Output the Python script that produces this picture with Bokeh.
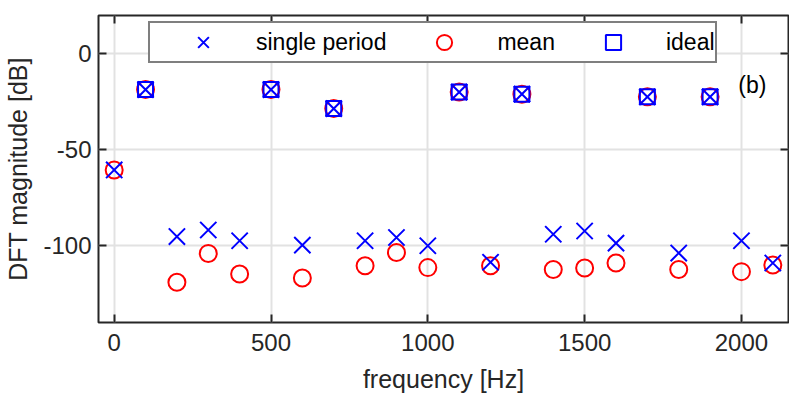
from bokeh.plotting import figure
from bokeh.models import (Range1d, FixedTicker, LinearAxis, Legend, LegendItem,
                          ColumnDataSource, Label, CustomLabelingPolicy)
from bokeh.embed import file_html
from bokeh.resources import INLINE

# ---- data ----
freq = [0, 100, 200, 300, 400, 500, 600, 700, 800, 900, 1000,
        1100, 1200, 1300, 1400, 1500, 1600, 1700, 1800, 1900, 2000, 2100]
single_period = [-60.5, -18.6, -95.2, -91.8, -97.4, -18.6, -99.7, -28.5, -97.4, -95.7, -100.0,
                 -19.9, -108.6, -21.0, -94.0, -92.3, -98.6, -22.4, -103.8, -22.4, -97.4, -109.0]
mean_db = [-60.5, -18.6, -119.0, -104.0, -114.7, -18.6, -116.8, -28.5, -110.4, -103.5, -111.4,
           -19.9, -110.4, -21.0, -112.4, -111.6, -109.0, -22.4, -112.4, -22.4, -113.5, -110.0]
ideal_freq = [100, 500, 700, 1100, 1300, 1700, 1900]
ideal_db = [-18.6, -18.6, -28.5, -19.9, -21.0, -22.4, -22.4]

x_ticks = [0, 500, 1000, 1500, 2000]
y_ticks = [-100, -50, 0]
x_label = "frequency [Hz]"
y_label = "DFT magnitude [dB]"
panel_tag = "(b)"

FONT = "Liberation Sans"
TICK_FS = "24px"
LABEL_FS = "25px"
LEG_FS = "23px"
DARK = "#262626"

p = figure(width=789, height=395, output_backend="svg", toolbar_location=None,
           x_range=Range1d(-50, 2150), y_range=Range1d(-140, 20),
           min_border_left=98, min_border_right=1, min_border_top=15, min_border_bottom=71)

p.background_fill_color = "white"
p.border_fill_color = "white"
p.outline_line_color = DARK
p.outline_line_width = 2

# grid
for g in (p.xgrid, p.ygrid):
    g.grid_line_color = "#e2e2e2"
    g.grid_line_width = 2
p.xgrid.ticker = FixedTicker(ticks=x_ticks)
p.ygrid.ticker = FixedTicker(ticks=y_ticks)

no_labels = CustomLabelingPolicy(code="""
for (const i of indices) { indices.unset(i) }
return indices
""")

def style_axis(ax, ticks, show_labels):
    ax.ticker = FixedTicker(ticks=ticks)
    ax.axis_line_color = None
    ax.major_tick_in = 8
    ax.major_tick_out = 0
    ax.major_tick_line_color = DARK
    ax.major_tick_line_width = 2
    ax.minor_tick_line_color = None
    ax.major_label_text_font = FONT
    ax.major_label_text_color = DARK
    if show_labels:
        ax.major_label_text_font_size = TICK_FS
        ax.axis_label_text_font = FONT
        ax.axis_label_text_font_size = LABEL_FS
        ax.axis_label_text_font_style = "normal"
        ax.axis_label_text_color = DARK
    else:
        ax.major_label_text_font_size = "0px"
        ax.major_label_standoff = 0
        ax.axis_label_standoff = 0
        ax.major_label_policy = no_labels

style_axis(p.xaxis[0], x_ticks, True)
style_axis(p.yaxis[0], y_ticks, True)
p.xaxis[0].axis_label = x_label
p.xaxis[0].major_label_standoff = 11
p.xaxis[0].axis_label_standoff = 11
p.yaxis[0].axis_label = y_label
p.yaxis[0].major_label_standoff = 7
p.yaxis[0].axis_label_standoff = 8
p.yaxis[0].major_label_overrides = {-100: "-100", -50: "-50", 0: "0"}

top_ax = LinearAxis()
right_ax = LinearAxis()
style_axis(top_ax, x_ticks, False)
style_axis(right_ax, y_ticks, False)
p.add_layout(top_ax, "above")
p.add_layout(right_ax, "right")

# glyphs
src = ColumnDataSource(dict(f=freq, s=single_period, m=mean_db))
isrc = ColumnDataSource(dict(f=ideal_freq, v=ideal_db))

r_mean = p.scatter("f", "m", source=src, marker="circle", size=17,
                   fill_color=None, line_color="#ff0000", line_width=2)
r_ideal = p.scatter("f", "v", source=isrc, marker="square", size=15,
                    fill_color=None, line_color="#0000ff", line_width=2)
r_single = p.scatter("f", "s", source=src, marker="x", size=23,
                     line_color="#0000ff", line_width=2)

p.add_layout(Label(x=1990, y=-16, text=panel_tag, text_font=FONT, text_font_size=LEG_FS,
                   text_color="black", text_baseline="middle", text_align="left"))

legend = Legend(items=[LegendItem(label="single period", renderers=[r_single]),
                       LegendItem(label="mean", renderers=[r_mean]),
                       LegendItem(label="ideal", renderers=[r_ideal])],
                orientation="horizontal", location=(50, 259),
                padding=0, spacing=5, margin=0,
                glyph_height=38, glyph_width=106, label_standoff=0,
                label_text_font=FONT, label_text_font_size=LEG_FS, label_text_color="black",
                label_text_baseline="middle",
                border_line_color="black", border_line_width=2,
                background_fill_color="white", background_fill_alpha=1.0)
p.add_layout(legend, "center")

open("out.html", "w").write(file_html(p, INLINE))
